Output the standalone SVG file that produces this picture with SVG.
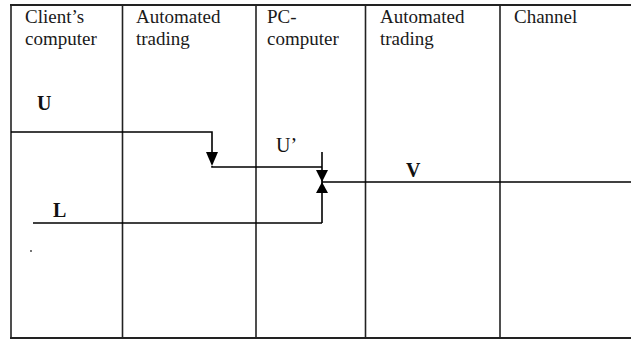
<svg xmlns="http://www.w3.org/2000/svg" width="631" height="339" viewBox="0 0 631 339">
<style>
.grid{stroke:#222;stroke-width:1.6;fill:none}
.hdr{font-family:"Liberation Serif","Times New Roman",serif;font-size:19px;fill:#1a1a1a}
.lbl{font-family:"Liberation Serif","Times New Roman",serif;font-size:20px;font-weight:bold;fill:#111}
.lblr{font-family:"Liberation Serif","Times New Roman",serif;font-size:20px;fill:#111}
.conn{stroke:#000;stroke-width:1.6;fill:none}
.head{fill:#000}
</style>
<rect width="631" height="339" fill="#fff"/>
<g id="table" class="grid">
<line x1="10" y1="5" x2="631" y2="5" stroke-width="2"/>
<line x1="11" y1="5" x2="11" y2="338"/>
<line x1="122.5" y1="5" x2="122.5" y2="338"/>
<line x1="256" y1="5" x2="256" y2="338"/>
<line x1="365.5" y1="5" x2="365.5" y2="338"/>
<line x1="500" y1="5" x2="500" y2="338"/>
<line x1="10" y1="338" x2="631" y2="338" stroke-width="2"/>
</g>
<g id="col-client"><text class="hdr" x="25" y="23">Client’s</text><text class="hdr" x="25" y="45">computer</text></g>
<g id="col-auto1"><text class="hdr" x="136" y="23">Automated</text><text class="hdr" x="136" y="45">trading</text></g>
<g id="col-pc"><text class="hdr" x="267" y="23">PC-</text><text class="hdr" x="267" y="45">computer</text></g>
<g id="col-auto2"><text class="hdr" x="380" y="23">Automated</text><text class="hdr" x="380" y="45">trading</text></g>
<g id="col-channel"><text class="hdr" x="514" y="23">Channel</text></g>
<g id="node-U"><text class="lbl" x="37" y="110">U</text></g>
<g id="node-Uprime"><text class="lblr" x="276" y="152">U’</text></g>
<g id="node-V"><text class="lbl" x="406" y="177">V</text></g>
<g id="node-L"><text class="lbl" x="53" y="217">L</text></g>
<circle cx="31" cy="251" r="0.9" fill="#333"/>
<g id="connectors">
<polyline class="conn" points="11,132 212,132 212,154"/>
<polygon class="head" points="206,152 218,152 212,166"/>
<polyline class="conn" points="212,166 212,167 322,167"/>
<line class="conn" x1="322" y1="152" x2="322" y2="223"/>
<polygon class="head" points="316,170 328,170 322,182"/>
<polygon class="head" points="316,193 328,193 322,182"/>
<line class="conn" x1="322" y1="182" x2="631" y2="182"/>
<line class="conn" x1="33" y1="223" x2="322" y2="223"/>
</g>
</svg>
